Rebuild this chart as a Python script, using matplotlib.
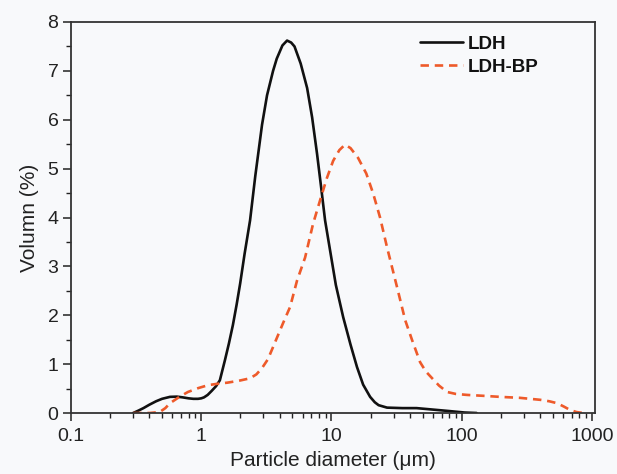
import matplotlib
matplotlib.use("Agg")
import matplotlib.pyplot as plt
from matplotlib.ticker import LogLocator, NullFormatter, MultipleLocator, FixedLocator

plt.rcParams['font.family'] = ['Liberation Sans', 'DejaVu Sans']

# LDH (solid black)
ldh_x = [0.30, 0.33, 0.36, 0.40, 0.45, 0.50, 0.575, 0.65, 0.72, 0.80, 0.87, 0.944,
         1.0, 1.05, 1.12, 1.2, 1.3, 1.39, 1.52, 1.63, 1.75, 1.87, 1.99, 2.15, 2.37,
         2.6, 2.93, 3.2, 3.56, 3.8, 4.2, 4.56, 4.9, 5.2, 5.8, 6.5, 7.1, 7.75, 8.3,
         8.93, 9.75, 10.8, 12.3, 14.0, 15.7, 17.5, 19.8, 21.5, 23, 26.7, 35, 45,
         60, 80, 105, 130]
ldh_y = [0, 0.05, 0.10, 0.17, 0.24, 0.29, 0.33, 0.335, 0.32, 0.30, 0.29, 0.29,
         0.30, 0.32, 0.37, 0.45, 0.55, 0.67, 1.08, 1.42, 1.8, 2.22, 2.65, 3.25, 3.94,
         4.85, 5.9, 6.5, 7.0, 7.25, 7.52, 7.62, 7.58, 7.5, 7.15, 6.65, 6.05, 5.3, 4.65,
         3.94, 3.33, 2.62, 1.96, 1.4, 0.94, 0.58, 0.33, 0.22, 0.16, 0.11, 0.10, 0.10,
         0.07, 0.04, 0.01, 0]

# LDH-BP (dashed orange)
bp_x = [0.30, 0.40, 0.48, 0.53, 0.575, 0.68, 0.79, 0.95, 1.13, 1.35, 1.58, 1.95,
        2.37, 2.65, 2.93, 3.25, 3.56, 4.25, 4.81, 5.44, 6.27, 7.22, 8.17, 9.2,
        10.3, 11.5, 12.7, 14.0, 16.0, 18.5, 20.9, 23.6, 26.7, 31.9, 36.8, 41.6,
        47.9, 53, 59.3, 67, 77.2, 90, 110, 150, 197, 280, 400, 470, 541, 610, 681,
        760, 855]
bp_y = [0, 0, 0.02, 0.1, 0.2, 0.33, 0.43, 0.51, 0.57, 0.60, 0.62, 0.66,
        0.71, 0.79, 0.92, 1.1, 1.35, 1.84, 2.17, 2.71, 3.18, 3.87, 4.35, 4.8,
        5.16, 5.38, 5.49, 5.42, 5.22, 4.9, 4.49, 4.0, 3.39, 2.57, 1.9, 1.49,
        1.04, 0.85, 0.71, 0.56, 0.43, 0.39, 0.37, 0.35, 0.33, 0.31, 0.27, 0.24, 0.2,
        0.13, 0.06, 0.02, 0]

x_ticks = [0.1, 1, 10, 100, 1000]
x_tick_labels = ['0.1', '1', '10', '100', '1000']
y_ticks = [0, 1, 2, 3, 4, 5, 6, 7, 8]

bg = '#f8f9fb'
fig = plt.figure(figsize=(6.17, 4.74), dpi=100, facecolor=bg)
ax = fig.add_axes([71/617, 1-413/474, (595-71)/617, (413-22)/474])
ax.set_facecolor(bg)

ax.plot(ldh_x, ldh_y, color='#111111', lw=1.9, label='LDH',
        solid_capstyle='round', solid_joinstyle='round')
ax.plot(bp_x, bp_y, color='#ee5a2a', lw=1.9, linestyle=(0, (3.2, 2.2)), label='LDH-BP')

ax.set_xscale('log')
ax.set_xlim(0.1, 1055)
ax.set_ylim(0, 8)

ax.xaxis.set_major_locator(FixedLocator(x_ticks))
ax.set_xticklabels(x_tick_labels)
ax.xaxis.set_minor_locator(LogLocator(base=10, subs=range(2, 10)))
ax.xaxis.set_minor_formatter(NullFormatter())
ax.set_yticks(y_ticks)
ax.yaxis.set_minor_locator(MultipleLocator(0.5))

ax.tick_params(which='major', direction='out', length=6, width=1.1, labelsize=14,
               colors='#222222', labelcolor='#222222', pad=3)
ax.tick_params(axis='x', which='major', pad=5)
ax.tick_params(which='minor', direction='out', length=3.5, width=1.0, colors='#222222')
ax.tick_params(top=False, right=False, which='both')

for s in ax.spines.values():
    s.set_color('#333333')
    s.set_linewidth(1.3)

ax.set_xlabel('Particle diameter (μm)', fontsize=15, color='#222222', labelpad=4)
ax.set_ylabel('Volumn (%)', fontsize=15, color='#222222', labelpad=6)

leg = ax.legend(loc='upper left', bbox_to_anchor=(0.666, 0.965), frameon=False,
                fontsize=13.5, handlelength=2.3, handletextpad=0.25,
                labelspacing=0.3, borderpad=0, borderaxespad=0)
for t in leg.get_texts():
    t.set_fontweight('bold')
    t.set_color('#111111')

fig.savefig('out.png', dpi=100, facecolor=bg)
